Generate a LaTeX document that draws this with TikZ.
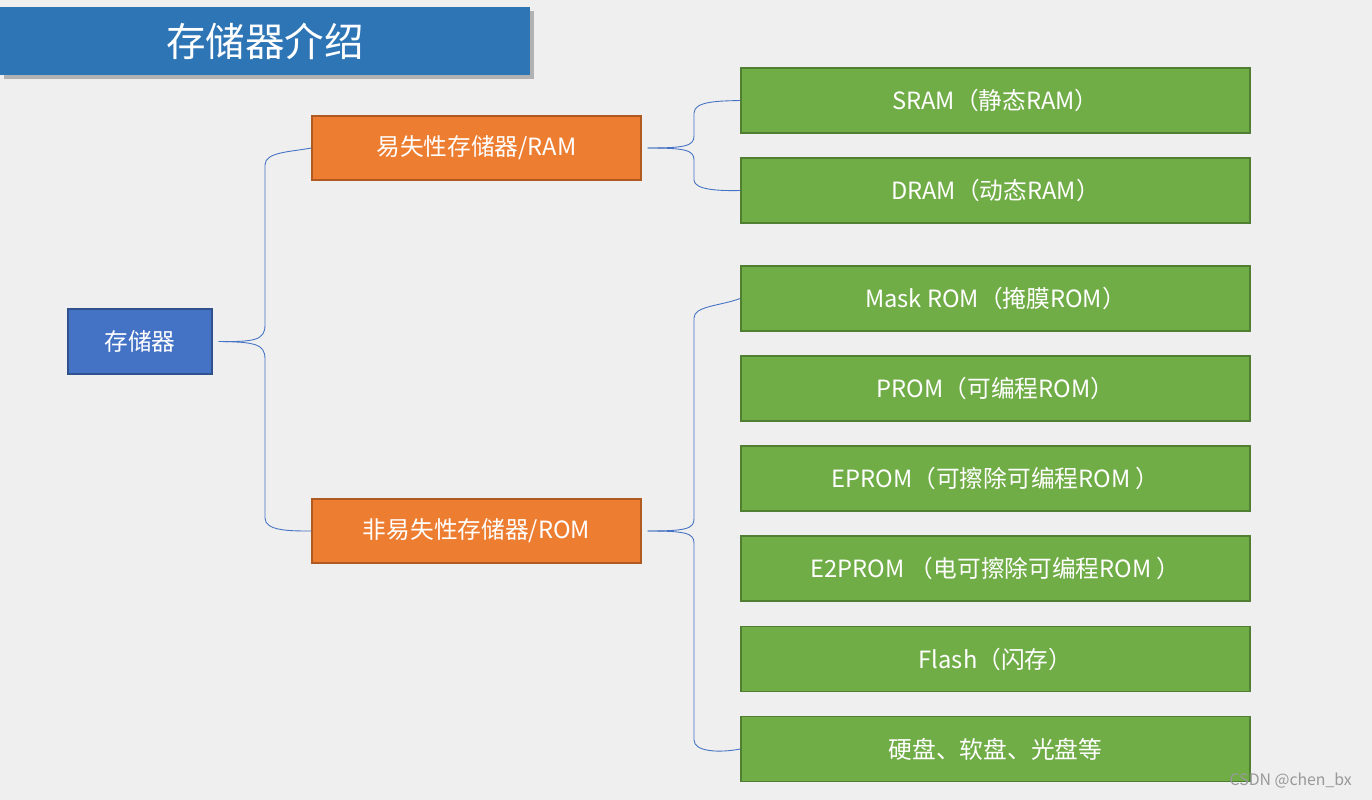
\documentclass[tikz,border=0pt]{standalone}
\usepackage{fontspec}
\setmainfont{Noto Sans CJK SC}
\definecolor{bg}{HTML}{EFEFEF}
\definecolor{tblue}{HTML}{2E75B6}
\definecolor{rblue}{HTML}{4472C4}
\definecolor{rbord}{HTML}{2F528F}
\definecolor{org}{HTML}{ED7D31}
\definecolor{orgb}{HTML}{AE5A21}
\definecolor{grn}{HTML}{70AD47}
\definecolor{grnb}{HTML}{507E32}
\definecolor{brc}{HTML}{4472C4}
\begin{document}
\begin{tikzpicture}[x=0.02cm,y=-0.02cm,
 box/.style={draw,line width=0.8pt,inner sep=0pt,text=white,font=\fontsize{13.5}{16}\selectfont},
 leaf/.style={box,fill=grn,draw=grnb,minimum width=509*0.02cm,minimum height=65*0.02cm},
 mid/.style={box,fill=org,draw=orgb,minimum width=329*0.02cm,minimum height=64*0.02cm},
 br/.style={draw=brc,line width=0.5pt}]
\fill[bg] (0,0) rectangle (1372,800);
\useasboundingbox (0,0) rectangle (1372,800);
\fill[black!30] (4,11) rectangle (534,79);
\node[fill=tblue,minimum width=530*0.02cm,minimum height=68*0.02cm,inner sep=0pt,text=white,font=\fontsize{22.5}{26}\selectfont] (title) at (265,41) {存储器介绍};
\node[box,fill=rblue,draw=rbord,minimum width=144*0.02cm,minimum height=65*0.02cm] (root) at (140,341.5) {存储器};
\node[mid] (ram) at (476.5,148) {易失性存储器/RAM};
\node[mid] (rom) at (476.5,531) {非易失性存储器/ROM};
\node[leaf] (g1) at (995.5,100.5) {SRAM（静态RAM）};
\node[leaf] (g2) at (995.5,190.5) {DRAM（动态RAM）};
\node[leaf] (g3) at (995.5,298.5) {Mask ROM（掩膜ROM）};
\node[leaf] (g4) at (995.5,388.5) {PROM（可编程ROM）};
\node[leaf] (g5) at (995.5,478.5) {EPROM（可擦除可编程ROM ）};
\node[leaf] (g6) at (995.5,568.5) {E2PROM （电可擦除可编程ROM ）};
\node[leaf] (g7) at (995.5,659) {Flash（闪存）};
\node[leaf] (g8) at (995.5,749) {硬盘、软盘、光盘等};
\node[text=black!40,font=\fontsize{9}{11}\selectfont,anchor=east] (wm) at (1358,781) {CSDN @chen\_bx};
% braces
\coordinate (rt) at ([xshift=6*0.02cm]root.east);
\draw[br] (rt) .. controls (255,342) and (265,340) .. (265,325) -- (265,165) .. controls (265,152) and (290,152) .. (ram.west);
\draw[br] (rt) .. controls (255,342) and (265,344) .. (265,359) -- (265,518) .. controls (265,531) and (290,531) .. (rom.west);
\coordinate (ra) at ([xshift=6*0.02cm]ram.east);
\draw[br] (ra) .. controls (685,148) and (694,146) .. (694,136) -- (694,113) .. controls (694,101) and (720,101) .. (g1.west);
\draw[br] (ra) .. controls (685,148) and (694,150) .. (694,160) -- (694,180) .. controls (694,190) and (720,191) .. (g2.west);
\coordinate (ro) at ([xshift=6*0.02cm]rom.east);
\draw[br] (ro) .. controls (685,531) and (694,529) .. (694,519) -- (694,318) .. controls (694,306) and (720,306) .. (g3.west);
\draw[br] (ro) .. controls (685,531) and (694,533) .. (694,543) -- (694,740) .. controls (694,752) and (720,753) .. (g8.west);
\end{tikzpicture}
\end{document}
